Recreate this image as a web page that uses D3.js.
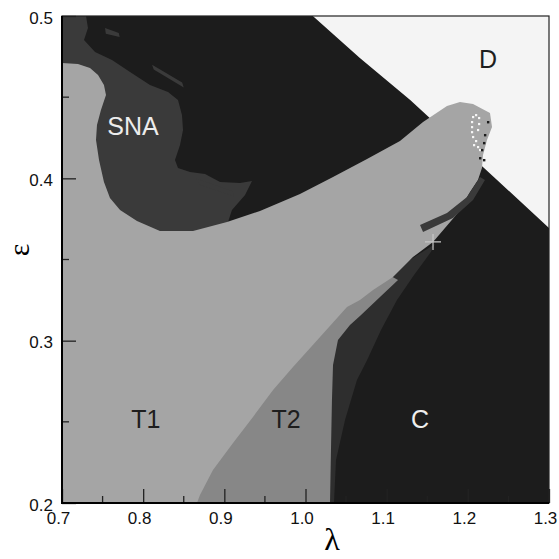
<!DOCTYPE html>
<html><head><meta charset="utf-8">
<script src="https://cdn.jsdelivr.net/npm/d3@7"></script>
<style>body{margin:0;background:#fff} svg{display:block}</style>
</head><body>
<script>
// ---- data (lambda, epsilon) ----
const xTicks = [0.7, 0.8, 0.9, 1.0, 1.1, 1.2, 1.3];
const xTickLabels = ["0.7", "0.8", "0.9", "1.0", "1.1", "1.2", "1.3"];
const xMinorTicks = [0.75, 0.85, 0.95, 1.05, 1.15, 1.25];
const yTicks = [0.2, 0.3, 0.4, 0.5];
const yTickLabels = ["0.2", "0.3", "0.4", "0.5"];
const yMinorTicks = [0.25, 0.35, 0.45];

// divergence region D (upper right)
const regionD = [[1.009,0.5],[1.067,0.4741],[1.129,0.4483],[1.236,0.3990],[1.3,0.3694],[1.3,0.5]];

// SNA region
const regionSNA = [[0.700,0.500],[0.7296,0.500],[0.7320,0.4926],[0.7271,0.4852],[0.7407,0.4778],[0.7616,0.4729],
  [0.7838,0.4655],[0.8084,0.4575],[0.8306,0.4532],[0.8429,0.4483],[0.8478,0.4390],[0.8491,0.4298],[0.8454,0.4205],
  [0.8392,0.4113],[0.8429,0.4064],[0.8577,0.4039],[0.8762,0.4027],[0.8947,0.3977],[0.9193,0.3971],[0.9341,0.3984],
  [0.9255,0.3897],[0.9094,0.3805],[0.9033,0.3713],[0.8207,0.3620],[0.700,0.3620]];

// small SNA streaks in the dark upper area
const snaStreaks = [
  [[0.7530,0.4926],[0.7700,0.4895],[0.7710,0.4870],[0.7540,0.4890]],
  [[0.8110,0.4700],[0.8480,0.4590],[0.8500,0.4560],[0.8130,0.4670]],
  [[0.8650,0.4000],[0.9100,0.3920],[0.9120,0.3890],[0.8700,0.3960]]
];

// transitional band between T2 and C
const regionBand = [[0.9932,0.2],[1.0351,0.2],[1.0376,0.2265],[1.0487,0.2511],[1.0634,0.2758],[1.0758,0.2880],
  [1.0930,0.3066],[1.1127,0.3250],[1.1337,0.3404],[1.1546,0.3547],[1.1595,0.3596],[0.9932,0.3066]];

// T2 region
const regionT2 = [[0.8577,0.2],[1.0302,0.2],[1.0314,0.2326],[1.0326,0.2635],[1.0339,0.2850],[1.0400,0.3004],
  [1.0548,0.3096],[1.0671,0.3152],[1.0918,0.3269],[1.1140,0.3374],[1.0918,0.3435],[0.9932,0.3066]];

// T1 region (torus) incl. tongue
const regionT1 = [[0.700,0.4710],[0.7197,0.4704],[0.7345,0.4680],[0.7444,0.4637],[0.7517,0.4575],[0.7542,0.4513],
  [0.7480,0.4421],[0.7431,0.4329],[0.7419,0.4236],[0.7456,0.4113],[0.7517,0.3977],[0.7591,0.3879],[0.7715,0.3805],
  [0.7924,0.3737],[0.8207,0.3676],[0.8614,0.3676],[0.9033,0.3731],[0.9439,0.3799],[0.9932,0.3903],[1.0339,0.4008],
  [1.0758,0.4119],[1.1164,0.4230],[1.1448,0.4347],[1.1743,0.4446],[1.1903,0.4470],[1.2064,0.4458],[1.2273,0.4402],
  [1.2298,0.4316],[1.2236,0.4236],[1.2187,0.4144],[1.2174,0.4064],[1.2125,0.3990],[1.2027,0.3916],[1.1866,0.3780],
  [1.1571,0.3608],[1.1324,0.3515],[1.1078,0.3392],[1.0832,0.3312],[1.0671,0.3250],[1.0511,0.3207],[1.0179,0.3023],
  [0.9846,0.2838],[0.9600,0.2696],[0.9353,0.2530],[0.9107,0.2370],[0.8860,0.2203],[0.8700,0.2049],[0.8663,0.2000],
  [0.700,0.200]];

// dark streak inside tongue
const streak = [[1.1411,0.3713],[1.1743,0.3786],[1.1990,0.3885],[1.2150,0.4008],[1.2211,0.3990],[1.2064,0.3867],
  [1.1817,0.3756],[1.1448,0.3669]];

const whiteDots = [[1.2064,0.4378],[1.2101,0.4390],[1.2138,0.4372],[1.2051,0.4347],[1.2051,0.4316],[1.2051,0.4285],
  [1.2064,0.4255],[1.2138,0.4335],[1.2125,0.4298],[1.2101,0.4230],[1.2076,0.4205],[1.2125,0.4193],[1.2150,0.4175]];
const darkDots = [[1.2248,0.4347],[1.2211,0.4267],[1.2199,0.4218],[1.2174,0.4175],[1.2150,0.4125],[1.2199,0.4113]];

const crossPoint = [1.1571, 0.3608];

const regionLabels = [
  {text:"SNA", l:0.7875, e:0.4268, color:"#ececec"},
  {text:"T1",  l:0.8034, e:0.2463, color:"#1e1e1e"},
  {text:"T2",  l:0.9760, e:0.2463, color:"#1e1e1e"},
  {text:"C",   l:1.1411, e:0.2463, color:"#eeeeee"},
  {text:"D",   l:1.2249, e:0.4679, color:"#1e1e1e"}
];

// ---- drawing ----
const W = 559, H = 559;
const x = d3.scaleLinear([0.7, 1.3], [62, 549]);
const y = d3.scaleLinear([0.2, 0.5], [503, 16]);

const svg = d3.select("body").append("svg").attr("width", W).attr("height", H);
svg.append("defs").append("clipPath").attr("id","clip")
  .append("rect").attr("x", x(0.7)).attr("y", y(0.5)).attr("width", x(1.3)-x(0.7)).attr("height", y(0.2)-y(0.5));

const g = svg.append("g").attr("clip-path","url(#clip)");
const poly = d3.line().x(d => x(d[0])).y(d => y(d[1])).curve(d3.curveLinearClosed);

g.append("rect").attr("x", x(0.7)).attr("y", y(0.5)).attr("width", x(1.3)-x(0.7)).attr("height", y(0.2)-y(0.5)).attr("fill","#1c1c1c");
g.append("path").attr("d", poly(regionD)).attr("fill","#f4f4f4");
g.append("path").attr("d", poly(regionSNA)).attr("fill","#3a3a3a");
g.selectAll(".ss").data(snaStreaks).join("path").attr("d", d => poly(d)).attr("fill","#3a3a3a");
g.append("path").attr("d", poly(regionBand)).attr("fill","#2e2e2e");
g.append("path").attr("d", poly(regionT2)).attr("fill","#878787");
g.append("path").attr("d", poly(regionT1)).attr("fill","#a5a5a5");
g.append("path").attr("d", poly(streak)).attr("fill","#3a3a3a");
g.selectAll(".wd").data(whiteDots).join("rect").attr("x", d=>x(d[0])-1).attr("y", d=>y(d[1])-1).attr("width",2.2).attr("height",2.2).attr("fill","#f6f6f6");
g.selectAll(".dd").data(darkDots).join("rect").attr("x", d=>x(d[0])-1).attr("y", d=>y(d[1])-1).attr("width",2.4).attr("height",2.4).attr("fill","#1c1c1c");

// cross marker
g.append("path").attr("d", `M${x(crossPoint[0])-8},${y(crossPoint[1])}H${x(crossPoint[0])+8}M${x(crossPoint[0])},${y(crossPoint[1])-8}V${y(crossPoint[1])+8}`)
  .attr("stroke","#c8c8c8").attr("stroke-width",1.2);

// region labels
svg.selectAll(".rl").data(regionLabels).join("text")
  .attr("x", d => x(d.l)).attr("y", d => y(d.e)).attr("text-anchor","middle")
  .attr("font-family","'Liberation Sans', Arial, sans-serif").attr("font-size",25)
  .attr("fill", d => d.color).text(d => d.text);

// axes
const xAxis = d3.axisBottom(x).tickValues(xTicks).tickFormat((d,i)=>xTickLabels[i]).tickSize(-14).tickPadding(9);
const gx = svg.append("g").attr("transform", `translate(0,${y(0.2)})`).call(xAxis);
gx.select(".domain").remove();
gx.selectAll("text").attr("dx", -4).attr("font-size",17).attr("font-family","'Liberation Sans', Arial, sans-serif").attr("fill","#111");
gx.selectAll("line").attr("stroke","#222").attr("stroke-width",1.3);
svg.append("g").selectAll("line").data(xMinorTicks).join("line")
  .attr("x1", d=>x(d)).attr("x2", d=>x(d)).attr("y1", y(0.2)).attr("y2", y(0.2)-7).attr("stroke","#222").attr("stroke-width",1.3);

const yAxis = d3.axisLeft(y).tickValues(yTicks).tickFormat((d,i)=>yTickLabels[i]).tickSize(-14).tickPadding(9);
const gy = svg.append("g").attr("transform", `translate(${x(0.7)},0)`).call(yAxis);
gy.select(".domain").remove();
gy.selectAll("text").attr("dy","0.42em").attr("font-size",17).attr("font-family","'Liberation Sans', Arial, sans-serif").attr("fill","#111");
gy.selectAll("line").attr("stroke","#222").attr("stroke-width",1.3);
svg.append("g").selectAll("line").data(yMinorTicks).join("line")
  .attr("x1", x(0.7)).attr("x2", x(0.7)+7).attr("y1", d=>y(d)).attr("y2", d=>y(d)).attr("stroke","#222").attr("stroke-width",1.3);

// frame
svg.append("rect").attr("x", x(0.7)).attr("y", y(0.5)).attr("width", x(1.3)-x(0.7)).attr("height", y(0.2)-y(0.5))
  .attr("fill","none").attr("stroke","#222").attr("stroke-width",1.2);
svg.append("path").attr("d", `M${x(0.7)},${y(0.5)}V${y(0.2)}H${x(1.3)}`).attr("fill","none").attr("stroke","#000").attr("stroke-width",2);

// axis titles
svg.append("text").attr("x", 332).attr("y", 550).attr("text-anchor","middle")
  .attr("font-family","'Liberation Serif', 'Times New Roman', serif").attr("font-size",32).attr("fill","#000").text("λ");
svg.append("text").attr("transform","translate(29,250) rotate(-90)").attr("text-anchor","middle")
  .attr("font-family","'Liberation Serif', 'Times New Roman', serif").attr("font-size",30).attr("fill","#000").text("ε");
</script>
</body></html>
